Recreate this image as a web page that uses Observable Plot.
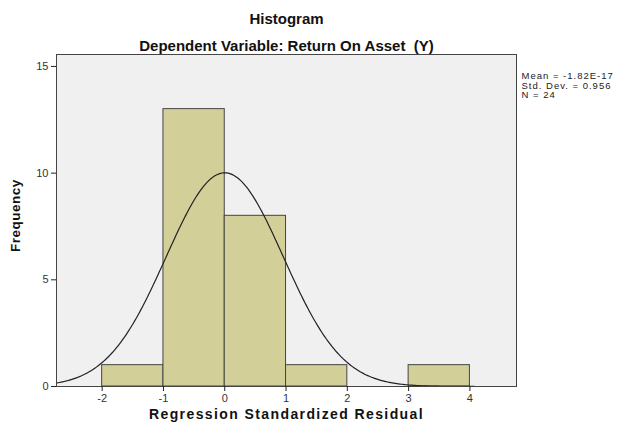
<!DOCTYPE html>
<html><head><meta charset="utf-8">
<script src="https://cdn.jsdelivr.net/npm/d3@7"></script>
<script src="https://cdn.jsdelivr.net/npm/@observablehq/plot@0.6"></script>
<style>body{margin:0;background:#fff;font-family:"Liberation Sans",Arial,sans-serif}</style>
</head><body><div id="chart"></div>
<script>
const binStart = [-2, -1, 0, 1, 3];
const binEnd = [-1, 0, 1, 2, 4];
const counts = [1, 13, 8, 1, 1];
const xTicks = [-2, -1, 0, 1, 2, 3, 4];
const yTicks = [0, 5, 10, 15];
const mean = -1.82e-17, sd = 0.956, n = 24, binWidth = 1;
const statLines = ["Mean = -1.82E-17", "Std. Dev. = 0.956", "N = 24"];

const bars = binStart.map((s, i) => ({x1: s, x2: binEnd[i], y: counts[i]}));
const xDomain = [-2.745, 4.76];
const curve = d3.range(0, 301).map(i => {
  const x = xDomain[0] + (xDomain[1] - xDomain[0]) * i / 300;
  const y = n * binWidth / (sd * Math.sqrt(2 * Math.PI)) * Math.exp(-0.5 * ((x - mean) / sd) ** 2);
  return {x, y};
});
const fmt = d => String(d);

const chart = Plot.plot({
  width: 620, height: 428,
  marginTop: 54, marginLeft: 56, marginRight: 104, marginBottom: 42,
  style: {fontFamily: "Liberation Sans, Arial, sans-serif", background: "#fff"},
  x: {domain: xDomain, ticks: xTicks, label: null, tickFormat: fmt},
  y: {domain: [0, 15.56], ticks: yTicks, label: null, tickFormat: fmt},
  marks: [
    Plot.frame({fill: "#f0f0f0", stroke: "none"}),
    Plot.rectY(bars, {x1: "x1", x2: "x2", y: "y", fill: "#d3cf99", stroke: "#444", strokeWidth: 1}),
    Plot.line(curve, {x: "x", y: "y", stroke: "#222", strokeWidth: 1.2, curve: "linear"}),
    Plot.frame({stroke: "#444", strokeWidth: 1}),
    Plot.axisX({ticks: xTicks, tickFormat: fmt, tickSize: 5, tickPadding: 3, fontSize: 11, fill: "#333", stroke: "#222", label: null}),
    Plot.axisY({ticks: yTicks, tickFormat: fmt, tickSize: 5, tickPadding: 3, fontSize: 11, fill: "#333", stroke: "#222", label: null}),
    Plot.text(["Histogram"], {frameAnchor: "top", dy: -41, fontSize: 15, fontWeight: "bold", fill: "#111"}),
    Plot.text(["Dependent Variable: Return On Asset  (Y)"], {frameAnchor: "top", dy: -14, fontSize: 15, fontWeight: "bold", fill: "#111"}),
    Plot.text(["Regression Standardized Residual"], {frameAnchor: "bottom", dy: 32, fontSize: 14, fontWeight: "bold", fill: "#111", className: "xlab"}),
    Plot.text(["Frequency"], {frameAnchor: "left", dx: -41, dy: -5, rotate: -90, textAnchor: "middle", fontSize: 13.5, fontWeight: "bold", fill: "#111", className: "ylab"}),
    Plot.text([statLines.join("\n")], {frameAnchor: "top-right", dx: 5, dy: 18, textAnchor: "start", lineAnchor: "top", lineHeight: 1.0, fontSize: 9.5, fill: "#222", className: "stats"})
  ]
});
document.getElementById("chart").appendChild(chart);
d3.select(chart).selectAll(".xlab text").attr("letter-spacing", "1.4px");
d3.select(chart).selectAll(".ylab text").attr("letter-spacing", "0.5px");
d3.select(chart).selectAll(".stats text").attr("letter-spacing", "1px");
</script></body></html>
